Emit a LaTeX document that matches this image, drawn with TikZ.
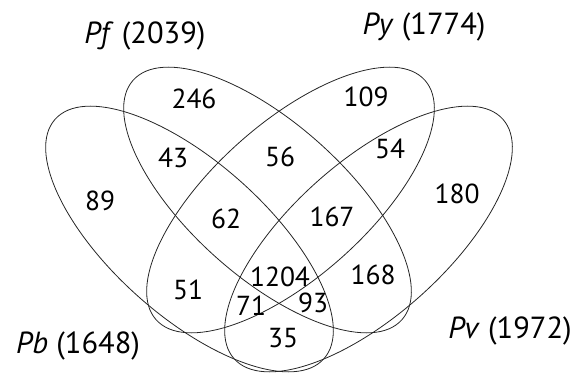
\documentclass[tikz,border=0pt]{standalone}
\usepackage{fontspec}
\setmainfont{PT Sans}
\begin{document}
\begin{tikzpicture}[x=1pt,y=1pt,
  setline/.style={draw=black!85, line width=0.8pt},
  count/.style={font=\fontsize{27.5}{30}\selectfont, inner sep=0pt},
  setname/.style={font=\fontsize{30.5}{33}\selectfont, inner sep=0pt, anchor=base}]
\useasboundingbox (0,0) rectangle (577,372);
\clip (0,0) rectangle (577,372);

% four congruent ellipses, two tilted each way
\draw[setline] (267.5,172) ellipse [x radius=180, y radius=77, rotate=-41.7];
\draw[setline] (290.5,172) ellipse [x radius=180, y radius=77, rotate=41.7];
\draw[setline] (189.5,133) ellipse [x radius=180, y radius=77, rotate=-41.7];
\draw[setline] (368.5,133) ellipse [x radius=180, y radius=77, rotate=41.7];

% set names with totals
\node[setname] (pf) at (145,328) {\textit{Pf} (2039)};
\node[setname] (py) at (424,337) {\textit{Py} (1774)};
\node[setname] (pb) at (78,18.5) {\textit{Pb} (1648)};
\node[setname] (pv) at (510,33.5) {\textit{Pv} (1972)};

% region counts
\node[count] (n246)  at (194,273) {246};
\node[count] (n109)  at (366,275) {109};
\node[count] (n43)   at (173,214) {43};
\node[count] (n56)   at (280,215) {56};
\node[count] (n54)   at (390,223) {54};
\node[count] (n89)   at (100,171) {89};
\node[count] (n180)  at (457,178) {180};
\node[count] (n62)   at (226,153) {62};
\node[count] (n167)  at (332,155) {167};
\node[count] (n51)   at (188,82)  {51};
\node[count] (n1204) at (280,95)  {1204};
\node[count] (n168)  at (373,97)  {168};
\node[count] (n71)   at (251,66)  {71};
\node[count] (n93)   at (313,69)  {93};
\node[count] (n35)   at (283,34)  {35};
\end{tikzpicture}
\end{document}
